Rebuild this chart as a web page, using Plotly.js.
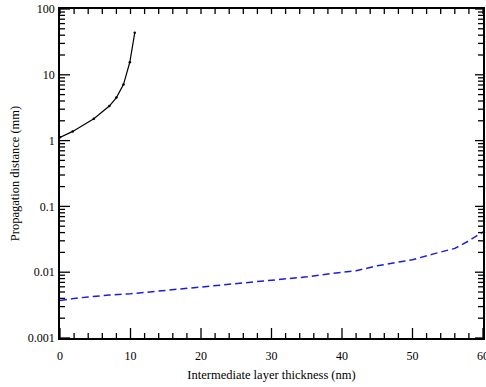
<!DOCTYPE html>
<html>
<head>
<meta charset="utf-8">
<script src="https://cdn.plot.ly/plotly-3.0.1.min.js"></script>
<style>html,body{margin:0;padding:0;background:#fff;}</style>
</head>
<body>
<div id="chart" style="width:486px;height:387px;"></div>
<script>
// Solid black series
const thickA = [0, 1.8, 4.8, 7.0, 8.0, 9.0, 9.9, 10.6];
const distA  = [1.12, 1.38, 2.15, 3.35, 4.5, 7.1, 15.5, 43.5];
// Dashed blue series
const thickB = [0, 2, 4, 6, 7, 10, 15, 20, 25, 30, 35, 40, 42, 45, 48, 50, 53, 56, 58, 60];
const distB  = [0.0037, 0.0040, 0.0042, 0.0044, 0.0045, 0.0047, 0.0053, 0.0060, 0.0067, 0.0075, 0.0085, 0.0100, 0.0105, 0.0125, 0.0140, 0.0155, 0.019, 0.023, 0.030, 0.041];

// Tick labels
const xTickVals = [0, 10, 20, 30, 40, 50, 60];
const xTickText = ["0", "10", "20", "30", "40", "50", "60"];
const yTickVals = [0.001, 0.01, 0.1, 1, 10, 100];
const yTickText = ["0.001", "0.01", "0.1", "1", "10", "100"];

const xMin = xTickVals[0], xMax = xTickVals[xTickVals.length - 1];
const yMin = yTickVals[0], yMax = yTickVals[yTickVals.length - 1];
const lyMin = Math.log10(yMin), lyMax = Math.log10(yMax);

// Tick marks as paper-referenced shapes (fraction of axis range, lengths in pixels)
const shapes = [];
const TICK = {color: '#000', width: 1.3};
function xTick(v, len, top) {
  const f = (v - xMin) / (xMax - xMin);
  shapes.push({type: 'line', xref: 'paper', yref: 'paper', ysizemode: 'pixel',
    yanchor: top ? 1 : 0, x0: f, x1: f, y0: 0, y1: top ? -len : len,
    line: TICK, layer: 'above'});
}
function yTick(v, len, right) {
  const f = (Math.log10(v) - lyMin) / (lyMax - lyMin);
  shapes.push({type: 'line', xref: 'paper', yref: 'paper', xsizemode: 'pixel',
    xanchor: right ? 1 : 0, y0: f, y1: f, x0: 0, x1: right ? -len : len,
    line: TICK, layer: 'above'});
}
for (let v = xMin; v <= xMax; v += 2) {
  const major = xTickVals.includes(v);
  xTick(v, major ? 10 : 5, false);
  xTick(v, 5, true);
}
yTickVals.forEach((v, i) => {
  yTick(v, 10, false);
  yTick(v, 8, true);
  if (i < yTickVals.length - 1) {
    for (let m = 2; m <= 9; m++) {
      yTick(m * v, 5, false);
      yTick(m * v, 5, true);
    }
  }
});

const traces = [
  {x: thickA, y: distA, mode: 'lines+markers', line: {color: '#000000', width: 1.2},
   marker: {size: 2.5, color: '#000000'}, showlegend: false},
  {x: thickB, y: distB, mode: 'lines', line: {color: '#1c1ce0', width: 1.5, dash: '7px,4px'}, showlegend: false}
];

const FAM = '"Liberation Serif", serif';

const layout = {
  width: 486, height: 387,
  margin: {l: 60, r: 3, t: 9, b: 49},
  paper_bgcolor: '#ffffff', plot_bgcolor: 'rgba(0,0,0,0)',
  font: {family: FAM, color: '#000000', size: 12},
  showlegend: false,
  shapes: shapes,
  xaxis: {
    range: [xMin, xMax], tickmode: 'array', tickvals: xTickVals, ticktext: xTickText,
    ticklabeloverflow: 'allow', ticks: '', ticklabelstandoff: 6,
    showline: true, linecolor: 'black', linewidth: 1.6, mirror: true,
    showgrid: false, zeroline: false,
    tickfont: {family: FAM, size: 12, color: '#000000'},
    title: {text: 'Intermediate layer thickness (nm)', font: {family: FAM, size: 12.5, color: '#000000'}, standoff: 8}
  },
  yaxis: {
    type: 'log', range: [lyMin, lyMax], tickmode: 'array', tickvals: yTickVals, ticktext: yTickText,
    ticks: '', ticklabelstandoff: 1,
    showline: true, linecolor: 'black', linewidth: 1.6, mirror: true,
    showgrid: false, zeroline: false,
    tickfont: {family: FAM, size: 12, color: '#000000'},
    title: {text: 'Propagation distance (mm)', font: {family: FAM, size: 12.5, color: '#000000'}, standoff: 5}
  }
};

Plotly.newPlot('chart', traces, layout, {displayModeBar: false});
</script>
</body>
</html>
